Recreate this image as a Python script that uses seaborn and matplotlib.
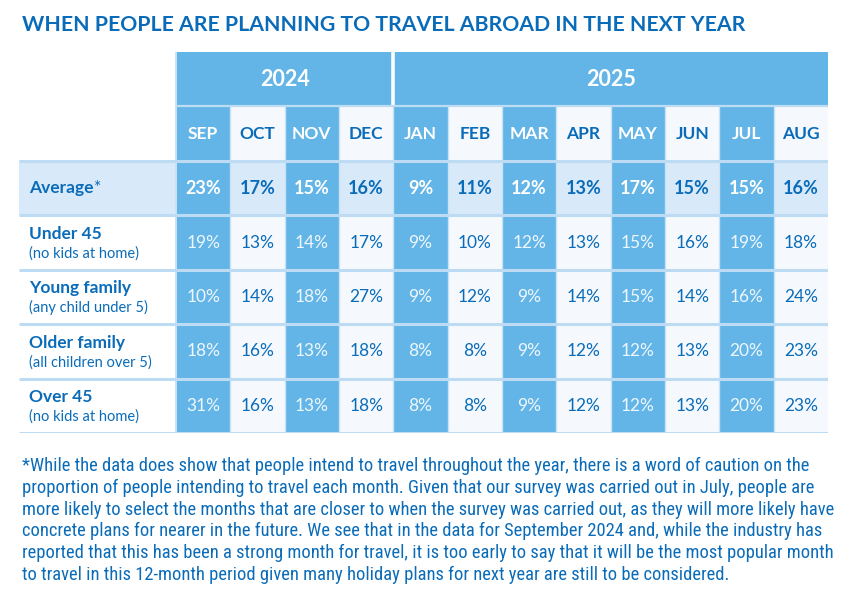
import numpy as np
import pandas as pd
import matplotlib
matplotlib.use("Agg")
import matplotlib.pyplot as plt
import seaborn as sns
from matplotlib.colors import ListedColormap
from matplotlib.patches import Rectangle
from matplotlib import font_manager

# ---------------- data ----------------
title = "WHEN PEOPLE ARE PLANNING TO TRAVEL ABROAD IN THE NEXT YEAR"
years = ["2024", "2025"]
year_spans = [4, 8]
months = ["SEP", "OCT", "NOV", "DEC", "JAN", "FEB", "MAR", "APR", "MAY", "JUN", "JUL", "AUG"]
row_names = ["Average", "Under 45", "Young family", "Older family", "Over 45"]
row_notes = ["", "(no kids at home)", "(any child under 5)", "(all children over 5)", "(no kids at home)"]
average = [23, 17, 15, 16, 9, 11, 12, 13, 17, 15, 15, 16]
under_45 = [19, 13, 14, 17, 9, 10, 12, 13, 15, 16, 19, 18]
young_family = [10, 14, 18, 27, 9, 12, 9, 14, 15, 14, 16, 24]
older_family = [18, 16, 13, 18, 8, 8, 9, 12, 12, 13, 20, 23]
over_45 = [31, 16, 13, 18, 8, 8, 9, 12, 12, 13, 20, 23]
footnote_lines = [
    "*While the data does show that people intend to travel throughout the year, there is a word of caution on the",
    "proportion of people intending to travel each month. Given that our survey was carried out in July, people are",
    "more likely to select the months that are closer to when the survey was carried out, as they will more likely have",
    "concrete plans for nearer in the future. We see that in the data for September 2024 and, while the industry has",
    "reported that this has been a strong month for travel, it is too early to say that it will be the most popular month",
    "to travel in this 12-month period given many holiday plans for next year are still to be considered.",
]

# ---------------- style ----------------
DARK = "#63b5e7"
LIGHT = "#f5f9fe"
AVG_LIGHT = "#d8eaf9"
SEP = "#bddbf3"
VSEP = "#c9e2f6"
BLUE = "#0a6cb9"
WHITE_TXT = "#ffffff"
DATA_WHITE = "#eef7fd"

sns.set_theme(style="white")
names = set(font_manager.get_font_names())
main_font = "Lato" if "Lato" in names else "DejaVu Sans"
plt.rcParams["font.family"] = [main_font, "DejaVu Sans"]
narrow = None
for cand in ["Liberation Sans Narrow", "Roboto Condensed", "Open Sans Condensed", "DejaVu Sans Condensed"]:
    if cand in names:
        narrow = cand
        break
foot_font = [narrow, main_font, "DejaVu Sans"] if narrow else [main_font, "DejaVu Sans"]

W, H = 849, 590
fig = plt.figure(figsize=(W / 100, H / 100), dpi=100)
fig.patch.set_facecolor("white")
renderer = fig.canvas.get_renderer()

L, R, T, B = 19, 828, 52, 433
ax = fig.add_axes([L / W, 1 - B / H, (R - L) / W, (B - T) / H])
ax.set_facecolor("white")

df = pd.DataFrame([average, under_45, young_family, older_family, over_45],
                  index=row_names, columns=months)
labels = np.array([[f"{v}%" for v in row] for row in df.values])

nrow, ncol = df.shape
dark_cols = np.tile(np.arange(ncol) % 2 == 0, (nrow, 1))
is_avg = np.zeros((nrow, ncol), dtype=bool)
is_avg[0, :] = True

layers = [
    (dark_cols & is_avg, DARK, WHITE_TXT, "bold", 13),
    (dark_cols & ~is_avg, DARK, DATA_WHITE, "normal", 12.5),
    (~dark_cols & is_avg, AVG_LIGHT, BLUE, "bold", 13),
    (~dark_cols & ~is_avg, LIGHT, BLUE, "normal", 12.5),
]
for show, fill, tcol, weight, size in layers:
    sns.heatmap(df, mask=~show, cmap=ListedColormap([fill]), annot=labels, fmt="",
                annot_kws={"color": tcol, "fontweight": weight, "fontsize": size},
                cbar=False, linewidths=0, xticklabels=False, yticklabels=False, ax=ax)

LW = (176 - L) / ((R - 176) / 12)
ax.set_xlim(-LW, ncol)
ax.set_ylim(nrow, -2)
ax.set_xlabel("")
ax.set_ylabel("")
ax.set_xticks([])
ax.set_yticks([])
for s in ax.spines.values():
    s.set_visible(False)

# year header
x0 = 0
for yr, span in zip(years, year_spans):
    ax.add_patch(Rectangle((x0, -2), span, 1, color=DARK, lw=0, zorder=1))
    ax.text(x0 + span / 2, -1.5, yr, ha="center", va="center", color="white",
            fontweight="bold", fontsize=15.5, zorder=3)
    x0 += span
ax.vlines([year_spans[0]], -2, -1, color="white", lw=2.6, zorder=2)

# month header
for j, m in enumerate(months):
    dark = j % 2 == 0
    ax.add_patch(Rectangle((j, -1), 1, 1, color=DARK if dark else LIGHT, lw=0, zorder=1))
    ax.text(j + 0.5, -0.5, m, ha="center", va="center",
            color="white" if dark else BLUE, fontweight="bold", fontsize=12.5, zorder=3)

# label column
ax.add_patch(Rectangle((-LW, 0), LW, 1, color=AVG_LIGHT, lw=0, zorder=1))
tx = -LW + 10 / 54.33
for i, (nm, note) in enumerate(zip(row_names, row_notes)):
    if i == 0:
        t = ax.text(tx, 0.5, nm, ha="left", va="center", color=BLUE,
                    fontweight="bold", fontsize=12.5, zorder=3)
        ax.annotate("*", xy=(1, 0), xycoords=t, ha="left", va="bottom",
                    color=BLUE, fontsize=12.5, fontweight="normal", zorder=3)
    else:
        ax.text(tx, i + 0.5 - 0.16, nm, ha="left", va="center", color=BLUE,
                fontweight="bold", fontsize=12.5, zorder=3)
        ax.text(tx, i + 0.5 + 0.20, note, ha="left", va="center", color=BLUE,
                fontsize=10.5, zorder=3)

# grid lines
ax.vlines(np.arange(1, ncol), -1, nrow, color=VSEP, lw=1.0, zorder=2)
ax.vlines([0], -2, nrow, color=VSEP, lw=1.4, zorder=2)
ax.hlines([-1], 0, ncol, color=SEP, lw=1.6, zorder=2)
ax.hlines(np.arange(0, nrow + 1), -LW, ncol, color=SEP, lw=2.2, zorder=2)

# title (fit width)
tt = fig.text(22 / W, 1 - 25 / H, title, ha="left", va="center", color=BLUE,
              fontweight="bold", fontsize=14)
w = tt.get_window_extent(renderer).width
tt.set_fontsize(14 * 726 / w)

# footnote
ys = [466, 488, 510, 531, 553, 575]
fs = 11
probe = fig.text(0, 0, footnote_lines[0], fontsize=fs, family=foot_font)
pw = probe.get_window_extent(renderer).width
probe.remove()
fs = fs * 787 / pw
for line, y in zip(footnote_lines, ys):
    fig.text(22 / W, 1 - y / H, line, ha="left", va="center", color=BLUE,
             fontsize=fs, family=foot_font)

fig.savefig("out.png", dpi=100, facecolor="white")
